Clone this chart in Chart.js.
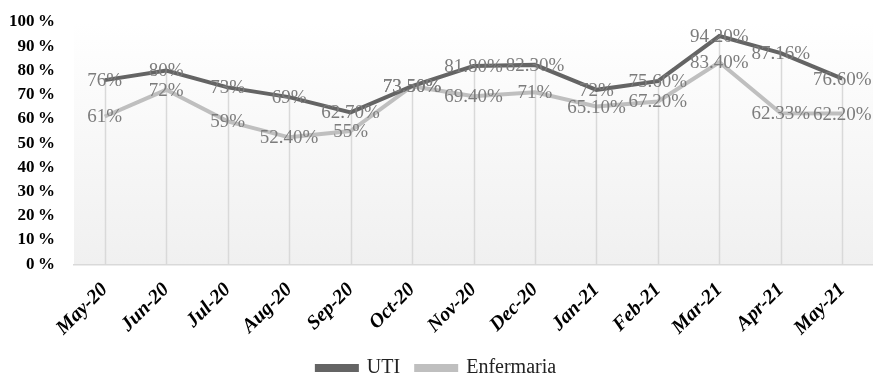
<!DOCTYPE html>
<html>
<head>
<meta charset="utf-8">
<script src="https://cdn.jsdelivr.net/npm/chart.js@4/dist/chart.umd.min.js"></script>
<style>
  html, body { margin: 0; padding: 0; background: #ffffff; }
  #wrap { width: 873px; height: 375px; position: relative; }
</style>
</head>
<body>
<div id="wrap"><canvas id="c"></canvas></div>
<script>
// months on the x axis
const months = ["May-20", "Jun-20", "Jul-20", "Aug-20", "Sep-20", "Oct-20", "Nov-20",
    "Dec-20", "Jan-21", "Feb-21", "Mar-21", "Apr-21", "May-21"];
// occupancy (%)
const utiValues = [76, 80, 73, 69, 62.7, 73.5, 81.8, 82.3, 72, 75.6, 94.2, 87.16, 76.6];
const enfermariaValues = [61, 72, 59, 52.4, 55, 73.5, 69.4, 71, 65.1, 67.2, 83.4, 62.33, 62.2];
const yTicks = [0, 10, 20, 30, 40, 50, 60, 70, 80, 90, 100];

const SERIF = "'Liberation Serif', 'Times New Roman', serif";

function fmtPct(v) {
    return (Number.isInteger(v) ? String(v) : v.toFixed(2)) + "%";
}

// plot area: white -> light grey from top to bottom
const plotBackground = {
    id: "plotBackground",
    beforeDraw(chart) {
        const a = chart.chartArea;
        const ctx = chart.ctx;
        const grad = ctx.createLinearGradient(0, a.top, 0, a.bottom);
        grad.addColorStop(0, "#ffffff");
        grad.addColorStop(1, "#f0f0f0");
        ctx.save();
        ctx.fillStyle = grad;
        ctx.fillRect(a.left, a.top, a.right - a.left, a.bottom - a.top);
        ctx.restore();
    },
};

// excel-like drop lines, from the highest point of each month down to the axis
const dropLines = {
    id: "dropLines",
    beforeDatasetsDraw(chart) {
        const x = chart.scales.x, y = chart.scales.y;
        const ctx = chart.ctx;
        ctx.save();
        ctx.strokeStyle = "#d9d9d9";
        ctx.lineWidth = 1.5;
        months.forEach((m, i) => {
            const top = Math.max(...chart.data.datasets.map((d) => d.data[i]));
            const px = Math.round(x.getPixelForValue(i)) + 0.5;
            ctx.beginPath();
            ctx.moveTo(px, y.getPixelForValue(top));
            ctx.lineTo(px, chart.chartArea.bottom);
            ctx.stroke();
        });
        ctx.restore();
    },
};

// value labels centred on the points
const valueLabels = {
    id: "valueLabels",
    afterDatasetsDraw(chart) {
        const ctx = chart.ctx;
        ctx.save();
        ctx.font = "19px " + SERIF;
        ctx.fillStyle = "#7c7c7c";
        ctx.textAlign = "center";
        ctx.textBaseline = "middle";
        chart.data.datasets.forEach((ds, di) => {
            chart.getDatasetMeta(di).data.forEach((pt, i) => {
                ctx.fillText(fmtPct(ds.data[i]), pt.x, pt.y + 1);
            });
        });
        ctx.restore();
    },
};

new Chart(document.getElementById("c"), {
    type: "line",
    data: {
        labels: months,
        datasets: [
            {
                label: "UTI",
                data: utiValues,
                borderColor: "#646464",
                backgroundColor: "#646464",
                borderWidth: 4,
                pointRadius: 0,
                tension: 0,
            },
            {
                label: "Enfermaria",
                data: enfermariaValues,
                borderColor: "#bfbfbf",
                backgroundColor: "#bfbfbf",
                borderWidth: 4,
                pointRadius: 0,
                tension: 0,
            },
        ],
    },
    options: {
        responsive: true,
        maintainAspectRatio: false,
        animation: false,
        layout: { padding: { top: 22, right: 0, bottom: -13, left: 0 } },
        scales: {
            x: {
                offset: true,
                grid: { display: false, drawTicks: false },
                border: { display: true, color: "#d9d9d9", width: 1.5 },
                ticks: {
                    color: "#000000",
                    maxRotation: 45,
                    minRotation: 45,
                    padding: 14,
                    font: { family: SERIF, size: 20, weight: "bold", style: "italic" },
                },
                afterFit(scale) {
                    // rotated labels have room on the left already, keep the plot wide
                    scale.paddingLeft = 0;
                    scale.paddingRight = 0;
                    scale.paddingTop = 0;
                    scale.paddingBottom = 0;
                    scale.height -= 12; // legend padding below eats this
                },
            },
            y: {
                min: 0,
                max: 100,
                afterBuildTicks(axis) {
                    axis.ticks = yTicks.map((v) => ({ value: v }));
                },
                afterFit(scale) {
                    scale.width = 74;
                    scale.paddingTop = 0;
                    scale.paddingBottom = 0;
                },
                grid: { display: false, drawTicks: false },
                border: { display: false },
                ticks: {
                    autoSkip: false,
                    color: "#000000",
                    padding: 19,
                    callback: (v) => v + "\u2009%",
                    font: { family: SERIF, size: 17, weight: "bold" },
                },
            },
        },
        plugins: {
            legend: {
                position: "bottom",
                labels: {
                    color: "#222222",
                    boxWidth: 40,
                    boxHeight: 4,
                    padding: 16,
                    font: { family: SERIF, size: 20 },
                },
            },
            tooltip: { enabled: false },
        },
    },
    plugins: [plotBackground, dropLines, valueLabels],
});
</script>
</body>
</html>
